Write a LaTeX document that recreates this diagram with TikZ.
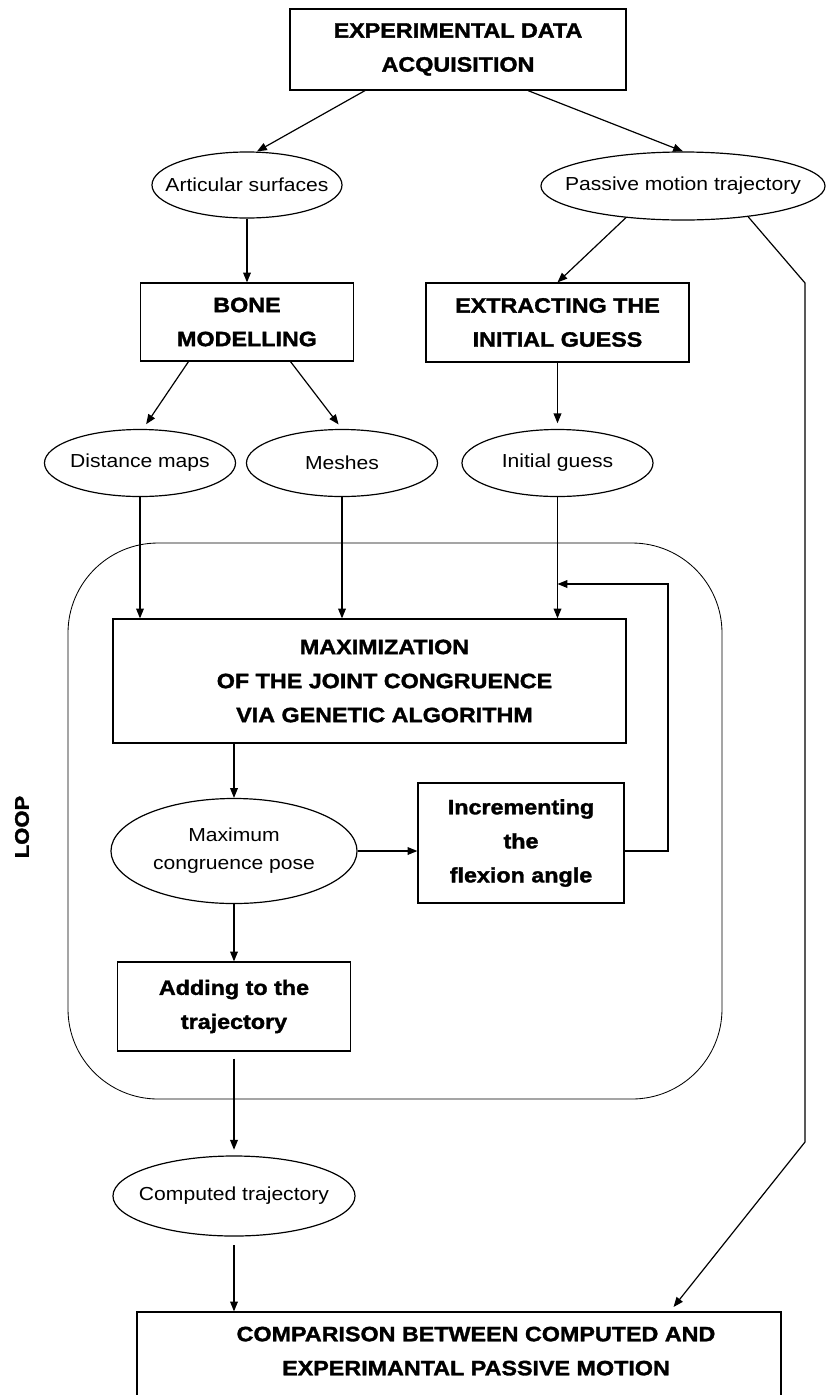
\documentclass[tikz,border=0pt]{standalone}
\usepackage{fontspec}
\setmainfont{Liberation Sans}[FakeStretch=1.12,BoldFeatures={FakeBold=1.6}]
\usetikzlibrary{arrows.meta,shapes.geometric}

\begin{document}
\begin{tikzpicture}[x=0.025cm,y=-0.025cm,line width=0.85pt,
    box/.style={draw,align=center,inner sep=0pt,
      font=\fontsize{14.8}{24.2}\selectfont\bfseries},
    oval/.style={draw,ellipse,align=center,inner xsep=-1cm,inner ysep=0pt,
      font=\fontsize{13.4}{19.9}\selectfont},
    arr/.style={-{Triangle[length=7pt,width=5.5pt]}},
    gap/.style={shorten >=4pt}]
  \clip (0,0) rectangle (826,1395);
  % inputs
  \node[box,minimum width=8.4cm,minimum height=2.025cm] (exp) at (458,49.5)
    {EXPERIMENTAL DATA\\ACQUISITION};
  \node[oval,minimum width=4.75cm,minimum height=1.65cm] (art) at (247,185)
    {Articular surfaces};
  \node[oval,minimum width=7.1cm,minimum height=1.7cm] (pas) at (683,186)
    {Passive motion trajectory};
  \node[box,minimum width=5.325cm,minimum height=1.95cm] (bone) at (247,322)
    {BONE\\MODELLING};
  \node[box,minimum width=6.575cm,minimum height=1.975cm] (ext) at (557.5,322.5)
    {EXTRACTING THE\\INITIAL GUESS};
  \node[oval,minimum width=4.775cm,minimum height=1.675cm] (dist) at (140,463)
    {Distance maps};
  \node[oval,minimum width=4.775cm,minimum height=1.675cm] (mesh) at (342,463)
    {Meshes};
  \node[oval,minimum width=4.775cm,minimum height=1.675cm] (ig) at (557.5,463)
    {Initial guess};
  % loop
  \draw[line width=0.6pt,rounded corners=2.25cm] (68,543) rectangle (722,1099);
  \node[rotate=90,font=\fontsize{14}{16}\selectfont\bfseries] (loop) at (22,827)
    {LOOP};
  \node[box,minimum width=12.825cm,minimum height=3.1cm] (max) at (369.5,681)
    {\hspace*{0.75cm}MAXIMIZATION\\\hspace*{0.75cm}OF THE JOINT CONGRUENCE\\
     \hspace*{0.75cm}VIA GENETIC ALGORITHM};
  \node[oval,minimum width=6.15cm,minimum height=2.625cm] (maxp) at (234,851)
    {Maximum\\congruence pose};
  \node[box,minimum width=5.15cm,minimum height=3cm] (inc) at (521,843)
    {Incrementing\\the\\flexion angle};
  \node[box,minimum width=5.825cm,minimum height=2.225cm] (add) at (234,1006.5)
    {Adding to the\\trajectory};
  % outputs
  \node[oval,minimum width=6.05cm,minimum height=2cm] (comp) at (234,1196)
    {Computed trajectory};
  \node[box,minimum width=16.1cm,minimum height=2.8cm] (cmp) at (459,1368)
    {\hspace*{0.85cm}COMPARISON BETWEEN COMPUTED AND\\
     \hspace*{0.85cm}EXPERIMANTAL PASSIVE MOTION\\\mbox{}};
  \coordinate (r1) at (805,283);
  \coordinate (r2) at (805,1142);
  \coordinate (back) at (668,584);

  \draw[arr] ([xshift=-2.325cm]exp.south) -- ([xshift=0.25cm]art.north);
  \draw[arr] ([xshift=1.75cm]exp.south) -- (pas.north);
  \draw[arr] (art) -- (bone);
  \draw[arr] ([xshift=-1.425cm,yshift=0.075cm]pas.south) -- (ext.north);
  \draw[arr,gap] ([xshift=1.625cm,yshift=0.1cm]pas.south) -- (r1) -- (r2)
    -- ([xshift=5.275cm]cmp.north);
  \draw[arr,gap] ([xshift=-1.4625cm]bone.south) -- ([xshift=0.075cm]dist.north);
  \draw[arr,gap] ([xshift=1.0875cm]bone.south) -- (mesh.north);
  \draw[arr,gap] (ext) -- (ig);
  \draw[arr] (dist) -- (dist |- max.north);
  \draw[arr] (mesh) -- (mesh |- max.north);
  \draw[arr] (ig) -- (ig |- max.north);
  \draw[arr] (maxp |- max.south) -- (maxp);
  \draw[arr] (maxp) -- (maxp -| inc.west);
  \draw[arr] (inc.east |- maxp) -| (back) -- (ig |- back);
  \draw[arr] (maxp) -- (maxp |- add.north);
  \draw[arr,gap,shorten <=5pt] (add) -- (comp);
  \draw[arr,shorten <=6pt] (comp) -- (comp |- cmp.north);
\end{tikzpicture}
\end{document}
